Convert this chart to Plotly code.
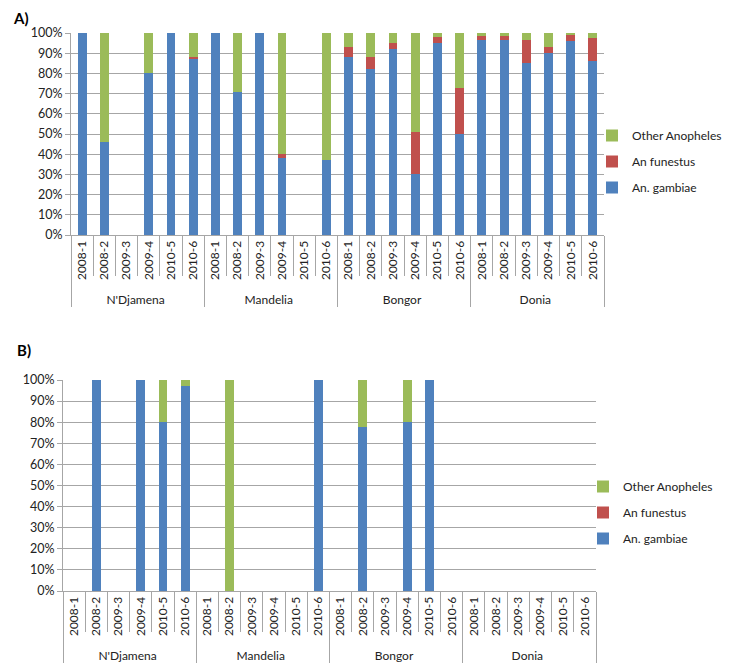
import plotly.graph_objects as go

sites = ["N'Djamena", "Mandelia", "Bongor", "Donia"]
periods = ["2008-1", "2008-2", "2009-3", "2009-4", "2010-5", "2010-6"]

# Panel A (percent)
a_gambiae = [100, 46, 0, 80, 100, 87,
             100, 71, 100, 38, 0, 37,
             88, 82, 92, 30, 95, 50,
             96.5, 96.5, 85, 90, 96, 86]
a_funestus = [0, 0, 0, 0, 0, 1,
              0, 0, 0, 2, 0, 0,
              5, 6, 3, 21, 3, 23,
              2, 2, 11.5, 3, 3.5, 11.5]
a_other = [0, 54, 0, 20, 0, 12,
           0, 29, 0, 60, 0, 63,
           7, 12, 5, 49, 2, 27,
           1.5, 1.5, 3.5, 7, 0.5, 2.5]

# Panel B (percent)
b_gambiae = [0, 100, 0, 100, 80, 97,
             0, 0, 0, 0, 0, 100,
             0, 77.5, 0, 80, 100, 0,
             0, 0, 0, 0, 0, 0]
b_funestus = [0] * 24
b_other = [0, 0, 0, 0, 20, 3,
           0, 100, 0, 0, 0, 0,
           0, 22.5, 0, 20, 0, 0,
           0, 0, 0, 0, 0, 0]

series_names = ["An. gambiae", "An funestus", "Other Anopheles"]
colors = ["#4F81BD", "#C0504D", "#9BBB59"]
ranks = [3, 2, 1]

xcat = [[s for s in sites for _ in periods], [p for _ in sites for p in periods]]

W, H = 733, 666
FONT = "Lato"

fig = go.Figure()

for panel, (vals, xa, ya, lg) in enumerate([
        ((a_gambiae, a_funestus, a_other), "x", "y", "legend"),
        ((b_gambiae, b_funestus, b_other), "x2", "y2", "legend2")]):
    for name, v, c, r in zip(series_names, vals, colors, ranks):
        fig.add_trace(go.Bar(x=xcat, y=v, name=name, marker_color=c,
                             marker_line_width=0, xaxis=xa, yaxis=ya,
                             legend=lg, legendgroup=f"{lg}-{name}",
                             legendrank=r, hoverinfo="skip"))

def px_x(p):
    return p / W

def px_y(p):
    return 1 - p / H

grid = "#A6A6A6"
tickfont = dict(family=FONT, size=12, color="#222222")

def xaxis_cfg(x0, x1, y_anchor):
    return dict(domain=[px_x(x0), px_x(x1)], anchor=y_anchor, type="multicategory",
                tickangle=-90, tickfont=tickfont, showline=True, linecolor=grid,
                linewidth=1, ticks="outside", tickson="boundaries", ticklen=40,
                tickcolor=grid, showdividers=True, dividercolor=grid, dividerwidth=1,
                showgrid=False, automargin=False, fixedrange=True)

def yaxis_cfg(y0, y1, x_anchor):
    return dict(domain=[px_y(y1), px_y(y0)], anchor=x_anchor, range=[0, 100],
                dtick=10, ticksuffix="%", tickfont=dict(family=FONT, size=12.5, color="#222222"),
                showgrid=True,
                gridcolor=grid, gridwidth=1, showline=True, linecolor=grid,
                ticks="outside", ticklen=5, tickcolor=grid, zeroline=False,
                automargin=False, fixedrange=True)

legend_common = dict(font=dict(family=FONT, size=12, color="#222222"),
                     traceorder="grouped", tracegroupgap=7,
                     bgcolor="rgba(0,0,0,0)", xanchor="left", yanchor="top",
                     itemwidth=30)

fig.update_layout(
    width=W, height=H,
    margin=dict(l=0, r=0, t=0, b=0),
    paper_bgcolor="white", plot_bgcolor="white",
    barmode="stack", bargap=0.6,
    showlegend=True,
    font=dict(family=FONT, size=12, color="#222222"),
    xaxis=xaxis_cfg(63, 596, "y"),
    yaxis=yaxis_cfg(25, 227, "x"),
    xaxis2=xaxis_cfg(55, 588, "y2"),
    yaxis2=yaxis_cfg(372, 583, "x2"),
    legend=dict(x=px_x(584), y=px_y(113), **legend_common),
    legend2=dict(x=px_x(575), y=px_y(464), **legend_common),
    annotations=[
        dict(text="<b>A)</b>", x=px_x(3), y=px_y(10), xref="paper", yref="paper",
             xanchor="left", yanchor="middle", showarrow=False,
             font=dict(family=FONT, size=15, color="black")),
        dict(text="<b>B)</b>", x=px_x(7), y=px_y(342), xref="paper", yref="paper",
             xanchor="left", yanchor="middle", showarrow=False,
             font=dict(family=FONT, size=15, color="black")),
    ],
)

fig.write_html("out.html")
